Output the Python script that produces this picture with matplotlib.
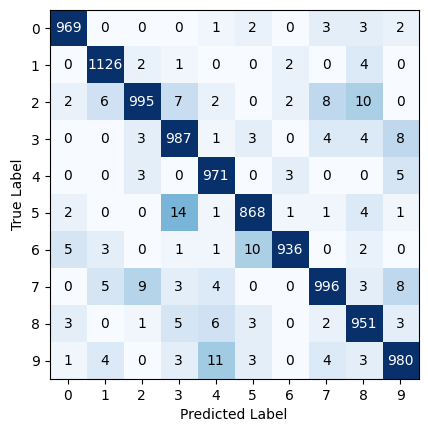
import numpy as np
import matplotlib
matplotlib.use("Agg")
import matplotlib.pyplot as plt

labels = ["0", "1", "2", "3", "4", "5", "6", "7", "8", "9"]
row0 = [969, 0, 0, 0, 1, 2, 0, 3, 3, 2]
row1 = [0, 1126, 2, 1, 0, 0, 2, 0, 4, 0]
row2 = [2, 6, 995, 7, 2, 0, 2, 8, 10, 0]
row3 = [0, 0, 3, 987, 1, 3, 0, 4, 4, 8]
row4 = [0, 0, 3, 0, 971, 0, 3, 0, 0, 5]
row5 = [2, 0, 0, 14, 1, 868, 1, 1, 4, 1]
row6 = [5, 3, 0, 1, 1, 10, 936, 0, 2, 0]
row7 = [0, 5, 9, 3, 4, 0, 0, 996, 3, 8]
row8 = [3, 0, 1, 5, 6, 3, 0, 2, 951, 3]
row9 = [1, 4, 0, 3, 11, 3, 0, 4, 3, 980]

cm = np.array([row0, row1, row2, row3, row4, row5, row6, row7, row8, row9])

fig = plt.figure(figsize=(4.28, 4.33), dpi=100)
ax = fig.add_axes([0.1157, 0.1247, 0.8623, 0.8523])
ax.imshow(cm, cmap="Blues", vmin=0, vmax=30, interpolation="nearest", aspect="auto")

for i in range(cm.shape[0]):
    for j in range(cm.shape[1]):
        v = cm[i, j]
        ax.text(j, i, str(v), ha="center", va="center",
                color="white" if v > 100 else "black", fontsize=10)

ax.set_xticks(range(len(labels)))
ax.set_yticks(range(len(labels)))
ax.set_xticklabels(labels)
ax.set_yticklabels(labels)
ax.set_xlabel("Predicted Label")
ax.set_ylabel("True Label")

fig.savefig("out.png", dpi=100)
